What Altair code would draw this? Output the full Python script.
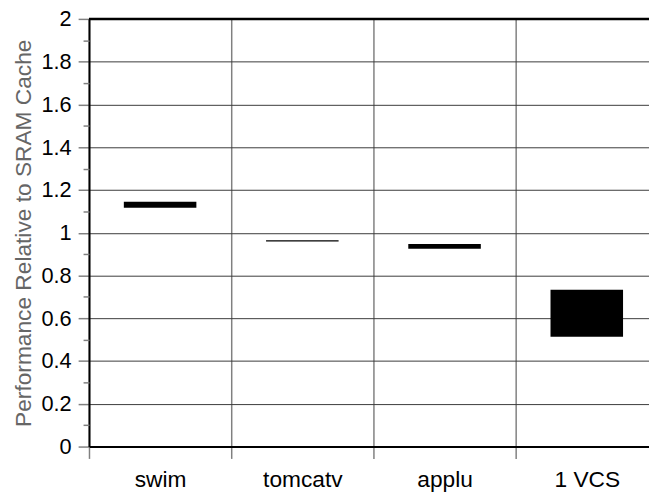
import json
import altair as alt
import pandas as pd

categories = ["swim", "tomcatv", "applu", "1 VCS"]
low = [1.117, 0.959, 0.925, 0.514]
high = [1.145, 0.965, 0.947, 0.733]
major_ticks = [0, 0.2, 0.4, 0.6, 0.8, 1.0, 1.2, 1.4, 1.6, 1.8, 2.0]
minor_ticks = [0.1, 0.3, 0.5, 0.7, 0.9, 1.1, 1.3, 1.5, 1.7, 1.9]
top_value = [2.0]

W, H = 567, 433
BAND = 144
xmax = W / BAND
FONT = "Liberation Sans"

df = pd.DataFrame({"cat": categories, "low": low, "high": high})
df["idx"] = range(len(df))
df["x0"] = df["idx"] + 0.245
df["x1"] = df["idx"] + 0.755

label_expr = json.dumps(categories) + "[round(datum.value)]"

bars = alt.Chart(df).mark_rect(color="black").encode(
    x=alt.X(
        "x0:Q",
        scale=alt.Scale(domain=[0, xmax], nice=False, zero=False),
        axis=alt.Axis(
            values=list(range(len(categories))),
            grid=True, gridColor="#808080", gridWidth=1.5,
            tickColor="#808080", tickSize=12, tickWidth=1.5,
            domainColor="black", domainWidth=2,
            labelExpr=label_expr, labelOffset=BAND / 2,
            labelPadding=10, labelFontSize=23, labelColor="black",
            labelFont=FONT, labelOverlap=False, labelFlush=False,
            title=None,
        ),
    ),
    x2="x1:Q",
    y=alt.Y(
        "low:Q",
        scale=alt.Scale(domain=[0, 2], nice=False, zero=True),
        axis=alt.Axis(
            values=major_ticks, format=".1~f",
            grid=True, gridColor="#3a3a3a", gridWidth=1,
            tickColor="#808080", tickSize=11, tickWidth=1.5,
            domainColor="black", domainWidth=2,
            labelPadding=7, labelFontSize=22, labelColor="black",
            labelFont=FONT, labelOverlap=False,
            title="Performance Relative to SRAM Cache",
            titleColor="#666666", titleFontSize=23, titleFontWeight="normal",
            titleFont=FONT, titlePadding=6,
        ),
    ),
    y2="high:Q",
)

top = alt.Chart(pd.DataFrame({"v": top_value})).mark_rule(
    color="black", strokeWidth=2.5
).encode(
    y=alt.Y(
        "v:Q",
        axis=alt.Axis(
            values=minor_ticks, orient="left", labels=False, grid=False,
            domain=False, tickSize=6, tickColor="#808080", tickWidth=1.5,
            title=None,
        ),
    ),
    x=alt.value(0),
    x2=alt.value(W),
)

chart = alt.layer(bars, top).resolve_axis(y="independent").properties(
    width=W,
    height=H,
    autosize=alt.AutoSizeParams(type="none"),
    padding={"left": 82, "top": 8, "right": 0, "bottom": 46},
).configure_view(stroke=None).configure(font=FONT)

chart.save("out.html", embed_options={"renderer": "svg", "actions": False})
